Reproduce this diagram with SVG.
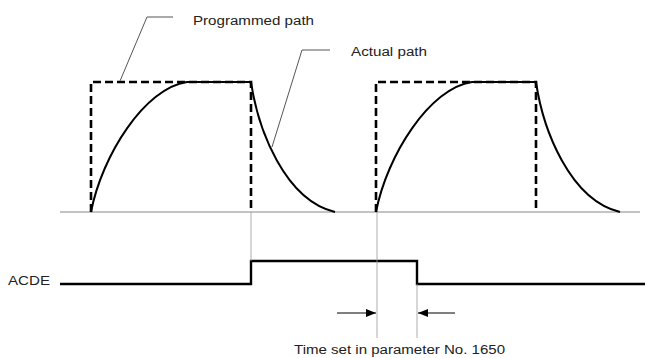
<svg xmlns="http://www.w3.org/2000/svg" width="645" height="358" viewBox="0 0 645 358">
<style>
text{font-family:"Liberation Sans",Arial,sans-serif;font-size:12.5px;fill:#222}
.axis{stroke:#888;stroke-width:1;fill:none}
.guide{stroke:#999;stroke-width:0.8;fill:none}
.prog{stroke:#000;stroke-width:2.6;fill:none;stroke-dasharray:8 4}
.act{stroke:#000;stroke-width:2;fill:none}
.sig{stroke:#000;stroke-width:2.4;fill:none}
.lead{stroke:#555;stroke-width:1;fill:none}
.dim{stroke:#000;stroke-width:1;fill:none}
</style>
<defs>
<marker id="ah" viewBox="0 0 10 8" refX="10" refY="4" markerWidth="10" markerHeight="8" markerUnits="userSpaceOnUse" orient="auto">
<path d="M0,0 L10,4 L0,8 Z" fill="#000"/>
</marker>
</defs>
<g id="axis">
<line class="axis" x1="60" y1="212" x2="640" y2="212"/>
</g>
<g id="pulse1">
<path class="prog" d="M91,212 V82 H251 V212"/>
<path class="act" d="M91,212 C102,155 145,88 187,82 H251 C258,130 285,200 335,212"/>
</g>
<g id="pulse2">
<path class="prog" d="M376,212 V82 H536 V212"/>
<path class="act" d="M376,212 C387,155 430,88 472,82 H536 C543,130 570,200 620,212"/>
</g>
<g id="label-programmed">
<path class="lead" d="M120,81 L147,17 H173"/>
<text x="193" y="24.5" textLength="121" lengthAdjust="spacingAndGlyphs">Programmed path</text>
</g>
<g id="label-actual">
<path class="lead" d="M272,147 L302,50 H330"/>
<text x="351" y="56" textLength="76" lengthAdjust="spacingAndGlyphs">Actual path</text>
</g>
<g id="acde">
<text x="8" y="285" textLength="42" lengthAdjust="spacingAndGlyphs">ACDE</text>
<path class="sig" d="M60,284 H251 V261 H417 V284 H645"/>
</g>
<g id="connectors">
<line class="guide" x1="251" y1="212" x2="251" y2="261"/>
<line class="guide" x1="377" y1="212" x2="377" y2="338"/>
<line class="guide" x1="417" y1="284" x2="417" y2="338"/>
<line class="dim" x1="337" y1="313" x2="376" y2="313" marker-end="url(#ah)"/>
<line class="dim" x1="455" y1="313" x2="418" y2="313" marker-end="url(#ah)"/>
</g>
<g id="label-time">
<text x="294" y="354" textLength="211" lengthAdjust="spacingAndGlyphs">Time set in parameter No. 1650</text>
</g>
</svg>
